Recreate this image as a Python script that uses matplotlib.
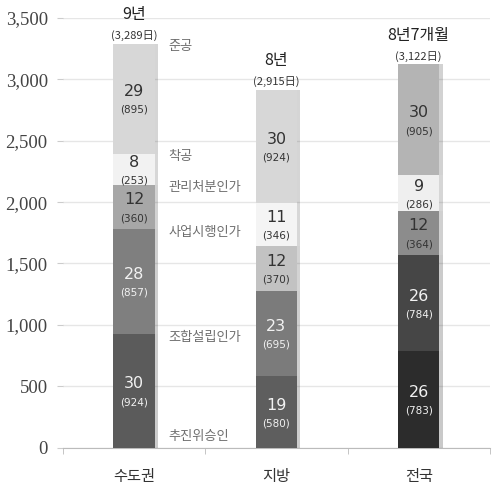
import numpy as np
import matplotlib
matplotlib.use("Agg")
import matplotlib.pyplot as plt
import matplotlib.patheffects as pe

plt.rcParams['font.family'] = ['Noto Sans CJK KR', 'DejaVu Sans']

# 데이터
regions = ['수도권', '지방', '전국']
stages = ['추진위승인', '조합설립인가', '사업시행인가', '관리처분인가', '착공', '준공']
# 구간별 소요일 (추진위승인→조합설립인가, ..., 착공→준공)
days = {
    '수도권': [924, 857, 360, 253, 895],
    '지방': [580, 695, 370, 346, 924],
    '전국': [783, 784, 364, 286, 905],
}
pcts = {
    '수도권': [30, 28, 12, 8, 29],
    '지방': [19, 23, 12, 11, 30],
    '전국': [26, 26, 12, 9, 30],
}
totals = [3289, 2915, 3122]
year_labels = ['9년', '8년', '8년7개월']

colors = {
    '수도권': ['#5b5b5b', '#7f7f7f', '#a7a7a7', '#f2f2f2', '#d7d7d7'],
    '지방': ['#5e5e5e', '#7b7b7b', '#c2c2c2', '#f4f4f4', '#d7d7d7'],
    '전국': ['#2c2c2c', '#464646', '#8c8c8c', '#efefef', '#b4b4b4'],
}
text_colors = ['#f2f2f2', '#f2f2f2', '#333333', '#333333', '#333333']

fig = plt.figure(figsize=(4.94, 4.86), dpi=100)
ax = fig.add_axes([0.1275, 0.079, 0.864, 0.884])

x = np.arange(len(regions))
width = 0.29
shadow = [pe.SimplePatchShadow(offset=(2.5, 0), alpha=0.22), pe.Normal()]

for i, reg in enumerate(regions):
    bottom = 0
    for j, (d, p) in enumerate(zip(days[reg], pcts[reg])):
        bar = ax.bar(x[i], d, width, bottom=bottom, color=colors[reg][j],
                     edgecolor='none', zorder=3)
        bar[0].set_path_effects(shadow)
        mid = bottom + d / 2
        ax.annotate(str(p), (x[i], mid), xytext=(0, 5), textcoords='offset points',
                    ha='center', va='center', fontsize=11.5, color=text_colors[j],
                    family='DejaVu Sans', zorder=4)
        ax.annotate(f'({d})', (x[i], mid), xytext=(0, -8), textcoords='offset points',
                    ha='center', va='center', fontsize=7.5, color=text_colors[j],
                    family='DejaVu Sans', zorder=4)
        bottom += d
    ax.annotate(f'({totals[i]:,}日)', (x[i], bottom), xytext=(0, 2),
                textcoords='offset points', ha='center', va='bottom',
                fontsize=8, color='#333333')
    ax.annotate(year_labels[i], (x[i], bottom), xytext=(0, 15),
                textcoords='offset points', ha='center', va='bottom',
                fontsize=11.5, color='#222222')

# 단계 라벨 (수도권 막대 오른쪽)
bounds = np.concatenate([[0], np.cumsum(days['수도권'])])
for k, (name, b) in enumerate(zip(stages, bounds)):
    yy = b - 25 if k > 0 else 90
    ax.text(x[0] + 0.24, yy, name, ha='left', va='center', fontsize=9.5,
            color='#6e6e6e', zorder=4)

ax.set_ylim(0, 3500)
ax.set_xlim(-0.5, 2.5)
ax.set_yticks(np.arange(0, 3501, 500))
ax.set_yticklabels([f'{v:,}' for v in range(0, 3501, 500)],
                   family='Liberation Serif', fontsize=13.5, color='#444444')
ax.set_xticks(x)
ax.set_xticklabels(regions, fontsize=11, color='#333333')
ax.set_xticks([-0.5, 0.5, 1.5, 2.5], minor=True)
ax.tick_params(axis='x', which='major', length=0, pad=15)
ax.tick_params(axis='x', which='minor', length=4, color='#bbbbbb')
ax.tick_params(axis='y', length=4, color='#cccccc', pad=7)

ax.grid(axis='y', color='#e6e6e6', lw=1, zorder=0)
ax.set_axisbelow(True)
for s in ['top', 'right', 'left']:
    ax.spines[s].set_visible(False)
ax.spines['bottom'].set_color('#bbbbbb')

fig.savefig('out.png', dpi=100)
